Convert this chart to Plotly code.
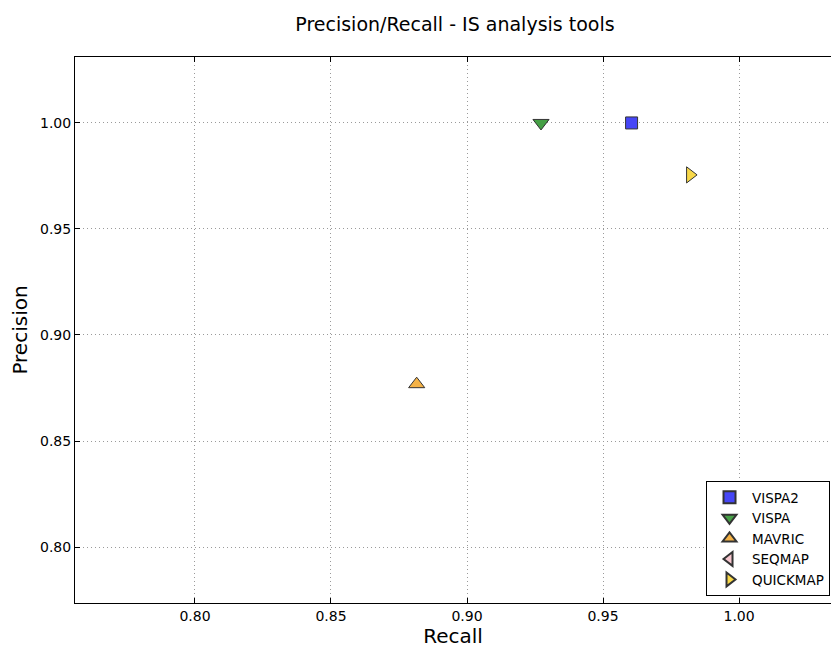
import plotly.graph_objects as go

tools = ["VISPA2", "VISPA", "MAVRIC", "SEQMAP", "QUICKMAP"]
recall = [0.9605, 0.9272, 0.8815, None, 0.9820]
precision = [1.000, 1.000, 0.8768, None, 0.9755]
symbols = ["square", "triangle-down", "triangle-up", "triangle-left", "triangle-right"]
colors = ["#4646f6", "#46a046", "#f4b246", "#f8c8d0", "#f8d848"]
sizes = [12, 14, 14, 14, 14]

x_ticks = [0.80, 0.85, 0.90, 0.95, 1.00]
y_ticks = [0.80, 0.85, 0.90, 0.95, 1.00]

fig = go.Figure()
for name, xv, yv, sym, col, sz in zip(tools, recall, precision, symbols, colors, sizes):
    fig.add_trace(go.Scatter(
        x=[xv], y=[yv], mode="markers", name=name,
        marker=dict(symbol=sym, size=sz, color=col,
                    line=dict(color="#333333", width=1)),
    ))

font = "DejaVu Sans, Liberation Sans, sans-serif"
axis_common = dict(
    showline=True, linecolor="black", linewidth=1,
    ticks="inside", ticklen=5, tickcolor="black",
    showgrid=True, gridcolor="#9a9a9a", griddash="1px,3px", gridwidth=1,
    zeroline=False, automargin=False,
    tickfont=dict(size=14, color="black", family=font),
)
fig.update_layout(
    width=831, height=648,
    margin=dict(l=75, r=0, t=57, b=45),
    paper_bgcolor="white", plot_bgcolor="white",
    font=dict(family=font, color="black"),
    title=dict(text="Precision/Recall - IS analysis tools", x=0.5475, xanchor="center",
               y=0.963, yanchor="middle", font=dict(size=19, family=font, color="black")),
    xaxis=dict(range=[0.7559, 1.0338], tickvals=x_ticks, mirror="ticks",
               ticktext=[f"{v:.2f}" for v in x_ticks],
               title=dict(text="Recall", font=dict(size=20, family=font), standoff=11),
               **axis_common),
    yaxis=dict(range=[0.7736, 1.0311], tickvals=y_ticks, mirror=False,
               ticktext=[f"{v:.2f}" for v in y_ticks],
               title=dict(text="Precision", font=dict(size=20, family=font), standoff=7),
               **axis_common),
    legend=dict(x=0.9987, xanchor="right", y=0.0128, yanchor="bottom",
                bordercolor="black", borderwidth=1, bgcolor="white",
                font=dict(size=13.5, family=font, color="black"),
                itemsizing="constant", itemwidth=35, tracegroupgap=0),
    showlegend=True,
)

fig.write_html(
    "out.html",
    config={"displayModeBar": False},
    post_script="document.body.style.margin='0';document.documentElement.style.overflow='hidden';",
)
